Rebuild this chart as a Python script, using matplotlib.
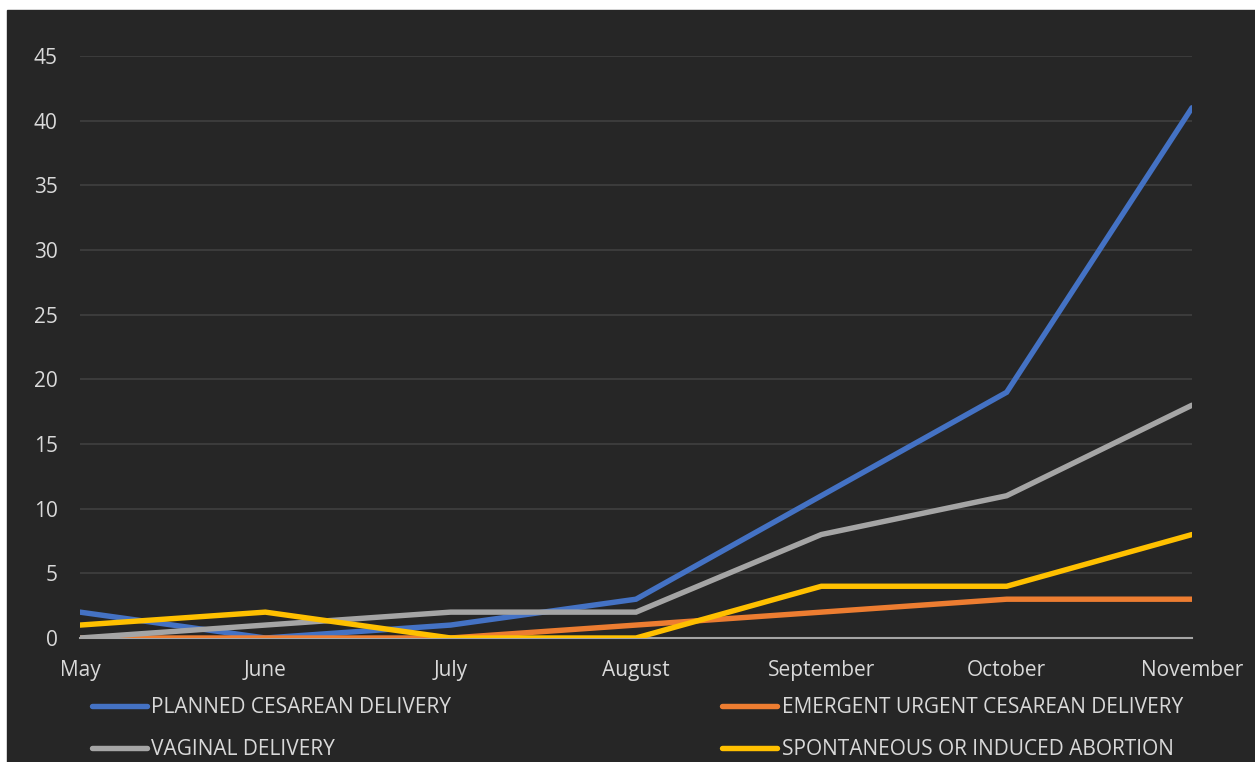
import matplotlib.pyplot as plt
from matplotlib.patches import Rectangle

months = ["May", "June", "July", "August", "September", "October", "November"]
planned = [2, 0, 1, 3, 11, 19, 41]
emergent = [0, 0, 0, 1, 2, 3, 3]
vaginal = [0, 1, 2, 2, 8, 11, 18]
abortion = [1, 2, 0, 0, 4, 4, 8]

series = [
    ("PLANNED CESAREAN DELIVERY", planned, "#4472C4"),
    ("EMERGENT URGENT CESAREAN DELIVERY", emergent, "#ED7D31"),
    ("VAGINAL DELIVERY", vaginal, "#A5A5A5"),
    ("SPONTANEOUS OR INDUCED ABORTION", abortion, "#FFC000"),
]

bg = "#262626"
txt = "#D9D9D9"
plt.rcParams["font.family"] = ["Open Sans", "DejaVu Sans"]
fs = 15

W, H = 1255, 762
fig = plt.figure(figsize=(W / 100, H / 100), dpi=100, facecolor="white")
fig.patches.append(Rectangle((7 / W, 0), 1 - 7 / W, 1 - 10 / H,
                             transform=fig.transFigure, color=bg, zorder=-10))

ax = fig.add_axes([80 / W, 124 / H, (1192 - 80) / W, (638 - 56) / H])
ax.set_facecolor("none")

x = list(range(len(months)))
for name, vals, col in series:
    ax.plot(x, vals, color=col, lw=3.9, label=name, solid_capstyle="round",
            solid_joinstyle="miter", zorder=3)

ax.set_xlim(0, len(months) - 1)
ax.set_ylim(0, 45)
ax.set_yticks(range(0, 46, 5))
ax.set_xticks(x)
ax.set_xticklabels(months)
ax.grid(axis="y", color="#404040", lw=1.2)
ax.set_axisbelow(True)
for s in ["top", "right", "left"]:
    ax.spines[s].set_visible(False)
ax.spines["bottom"].set_color("#A5A5A5")
ax.spines["bottom"].set_linewidth(1.5)
ax.spines["bottom"].set_zorder(2)
ax.tick_params(axis="both", length=0, colors=txt, labelsize=fs)
ax.tick_params(axis="y", pad=16)
ax.tick_params(axis="x", pad=16)

handles, labels = ax.get_legend_handles_labels()
order = [0, 2, 1, 3]
leg = fig.legend([handles[i] for i in order], [labels[i] for i in order],
                 ncol=2, loc="upper left", bbox_to_anchor=(92 / W, 1 - 697 / H),
                 frameon=False, fontsize=fs, labelcolor=txt, handlelength=2.65,
                 handletextpad=0.2, columnspacing=13.0, labelspacing=1.0,
                 borderpad=0, borderaxespad=0)

fig.savefig("out.png", dpi=100, facecolor="white")
